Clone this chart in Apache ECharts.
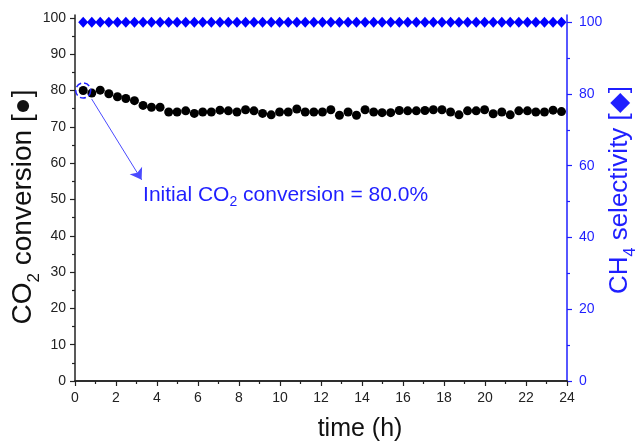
<!DOCTYPE html>
<html>
<head>
<meta charset="utf-8">
<script src="https://cdn.jsdelivr.net/npm/echarts@6/dist/echarts.min.js"></script>
<style>
  html, body { margin: 0; padding: 0; background: #fff; }
  #chart { width: 635px; height: 443px; }
</style>
</head>
<body>
<div id="chart"></div>
<script>
// time on stream (h)
var times = [0.40, 0.82, 1.23, 1.65, 2.07, 2.48, 2.90, 3.32, 3.73, 4.15,
  4.57, 4.98, 5.40, 5.82, 6.23, 6.65, 7.07, 7.48, 7.90, 8.32,
  8.73, 9.15, 9.57, 9.98, 10.40, 10.82, 11.23, 11.65, 12.07, 12.48,
  12.90, 13.32, 13.73, 14.15, 14.57, 14.98, 15.40, 15.82, 16.23, 16.65,
  17.07, 17.48, 17.90, 18.32, 18.73, 19.15, 19.57, 19.98, 20.40, 20.82,
  21.23, 21.65, 22.07, 22.48, 22.90, 23.32, 23.73];

// CO2 conversion (%)
var conversion = [80.0, 79.3, 80.1, 79.1, 78.3, 77.8, 77.2, 75.9, 75.4, 75.4,
  74.1, 74.1, 74.4, 73.7, 74.1, 74.1, 74.6, 74.4, 74.1, 74.7,
  74.4, 73.7, 73.3, 74.1, 74.1, 74.9, 74.1, 74.1, 74.1, 74.7,
  73.2, 74.1, 73.2, 74.7, 74.1, 73.9, 73.9, 74.5, 74.4, 74.4,
  74.5, 74.7, 74.7, 74.1, 73.3, 74.4, 74.4, 74.7, 73.6, 74.1,
  73.3, 74.4, 74.4, 74.1, 74.1, 74.6, 74.2];

// CH4 selectivity (%)
var selectivity = [100, 100, 100, 100, 100, 100, 100, 100, 100, 100,
  100, 100, 100, 100, 100, 100, 100, 100, 100, 100,
  100, 100, 100, 100, 100, 100, 100, 100, 100, 100,
  100, 100, 100, 100, 100, 100, 100, 100, 100, 100,
  100, 100, 100, 100, 100, 100, 100, 100, 100, 100,
  100, 100, 100, 100, 100, 100, 100];

var leftTicks = [0, 10, 20, 30, 40, 50, 60, 70, 80, 90, 100];
var leftMinor = [5, 15, 25, 35, 45, 55, 65, 75, 85, 95];
var rightTicks = [0, 20, 40, 60, 80, 100];
var rightMinor = [10, 30, 50, 70, 90];

// annotation anchors (data units)
var arrowFrom = [0.81, 77.7];
var arrowTo = [3.25, 55.4];
var noteAt = [3.32, 51.2];

var BLUE = '#1f1fff';
var FONT = 'Liberation Sans, Arial, sans-serif';

var chart = echarts.init(document.getElementById('chart'));

function pairs(xs, ys) {
  return xs.map(function (x, i) { return [x, ys[i]]; });
}

var option = {
  animation: false,
  textStyle: { fontFamily: FONT },
  grid: { left: 75, right: 68, top: 15, bottom: 62, outerBoundsMode: 'none', containLabel: false },
  xAxis: [
    {
      type: 'value', min: 0, max: 24, interval: 2,
      position: 'bottom',
      axisLine: { lineStyle: { color: '#222', width: 1.5 } },
      axisTick: { length: 5, lineStyle: { color: '#222', width: 1.2 } },
      minorTick: { show: true, splitNumber: 2, length: 3, lineStyle: { color: '#222', width: 1.2 } },
      minorSplitLine: { show: false },
      splitLine: { show: false },
      axisLabel: { fontSize: 14, color: '#222', margin: 10, fontFamily: FONT },
      name: 'time (h)',
      nameLocation: 'middle',
      nameGap: 36,
      nameMoveOverlap: false,
      nameTextStyle: { fontSize: 25, color: '#111', fontFamily: FONT, padding: [0, 0, 0, 78] }
    },
    {
      type: 'value', min: 0, max: 24,
      position: 'top',
      axisLine: { show: true, lineStyle: { color: '#222', width: 1.5 } },
      axisTick: { show: false },
      axisLabel: { show: false },
      splitLine: { show: false }
    }
  ],
  yAxis: [
    {
      type: 'value', min: 0, max: 100.8,
      position: 'left',
      axisLine: { show: true, lineStyle: { color: '#222', width: 1.5 } },
      axisTick: { customValues: leftTicks, length: 5, lineStyle: { color: '#222', width: 1.2 } },
      axisLabel: { customValues: leftTicks, fontSize: 14, color: '#222', margin: 9, fontFamily: FONT },
      splitLine: { show: false },
      name: '{n|CO}{s|2}{n| conversion [●]}',
      nameLocation: 'middle',
      nameRotate: 90,
      nameGap: 38,
      nameMoveOverlap: false,
      nameTextStyle: {
        color: '#111',
        padding: [0, 18, 0, 0],
        rich: {
          n: { fontSize: 28, fontFamily: FONT, color: '#111' },
          s: { fontSize: 17, fontFamily: FONT, color: '#111', verticalAlign: 'bottom', padding: [0, 0, -6, 0] }
        }
      }
    },
    {
      type: 'value', min: 0, max: 100.8,
      position: 'left',
      axisLine: { show: false },
      axisTick: { customValues: leftMinor, length: 3, lineStyle: { color: '#222', width: 1.2 } },
      axisLabel: { show: false },
      splitLine: { show: false }
    },
    {
      type: 'value', min: 0, max: 102,
      position: 'right',
      axisLine: { show: true, lineStyle: { color: BLUE, width: 1.5 } },
      axisTick: { customValues: rightTicks, length: 5, lineStyle: { color: BLUE, width: 1.2 } },
      axisLabel: { customValues: rightTicks, fontSize: 14, color: BLUE, margin: 12, fontFamily: FONT },
      splitLine: { show: false },
      name: '{n|CH}{s|4}{n| selectivity [◆]}',
      nameLocation: 'middle',
      nameRotate: 90,
      nameGap: 40,
      nameMoveOverlap: false,
      nameTextStyle: {
        color: BLUE,
        padding: [0, 0, 0, 16],
        rich: {
          n: { fontSize: 26, fontFamily: FONT, color: BLUE },
          s: { fontSize: 16, fontFamily: FONT, color: BLUE, verticalAlign: 'bottom', padding: [0, 0, -6, 0] }
        }
      }
    },
    {
      type: 'value', min: 0, max: 102,
      position: 'right',
      axisLine: { show: false },
      axisTick: { customValues: rightMinor, length: 3, lineStyle: { color: BLUE, width: 1.2 } },
      axisLabel: { show: false },
      splitLine: { show: false }
    }
  ],
  series: [
    {
      name: 'CO2 conversion',
      type: 'scatter',
      xAxisIndex: 0, yAxisIndex: 0,
      symbol: 'circle', symbolSize: 9,
      itemStyle: { color: '#000', opacity: 1 },
      data: pairs(times, conversion)
    },
    {
      name: 'CH4 selectivity',
      type: 'scatter',
      xAxisIndex: 0, yAxisIndex: 2,
      symbol: 'diamond', symbolSize: [10, 11],
      itemStyle: { color: '#0000ff', opacity: 1 },
      data: pairs(times, selectivity)
    },
    {
      name: 'initial',
      type: 'scatter',
      xAxisIndex: 0, yAxisIndex: 0,
      symbol: 'circle', symbolSize: 15,
      silent: true,
      itemStyle: { color: 'rgba(0,0,0,0)', borderColor: BLUE, borderWidth: 1.5, borderType: 'dashed', opacity: 1 },
      data: [[times[0], conversion[0]]],
      markLine: {
        silent: true,
        symbol: ['none', 'arrow'],
        symbolSize: 11,
        label: { show: false },
        lineStyle: { color: '#4a4aff', width: 1, type: 'solid' },
        data: [[{ coord: arrowFrom }, { coord: arrowTo }]]
      },
      markPoint: {
        silent: true,
        symbol: 'circle',
        symbolSize: 0,
        data: [{ coord: noteAt }],
        label: {
          show: true,
          position: 'right',
          distance: 0,
          formatter: '{a|Initial CO}{b|2}{a| conversion = 80.0%}',
          rich: {
            a: { fontSize: 21, color: BLUE, fontFamily: FONT },
            b: { fontSize: 14, color: BLUE, fontFamily: FONT, verticalAlign: 'bottom', padding: [0, 0, -4, 0] }
          }
        }
      }
    }
  ]
};

chart.setOption(option);
</script>
</body>
</html>
